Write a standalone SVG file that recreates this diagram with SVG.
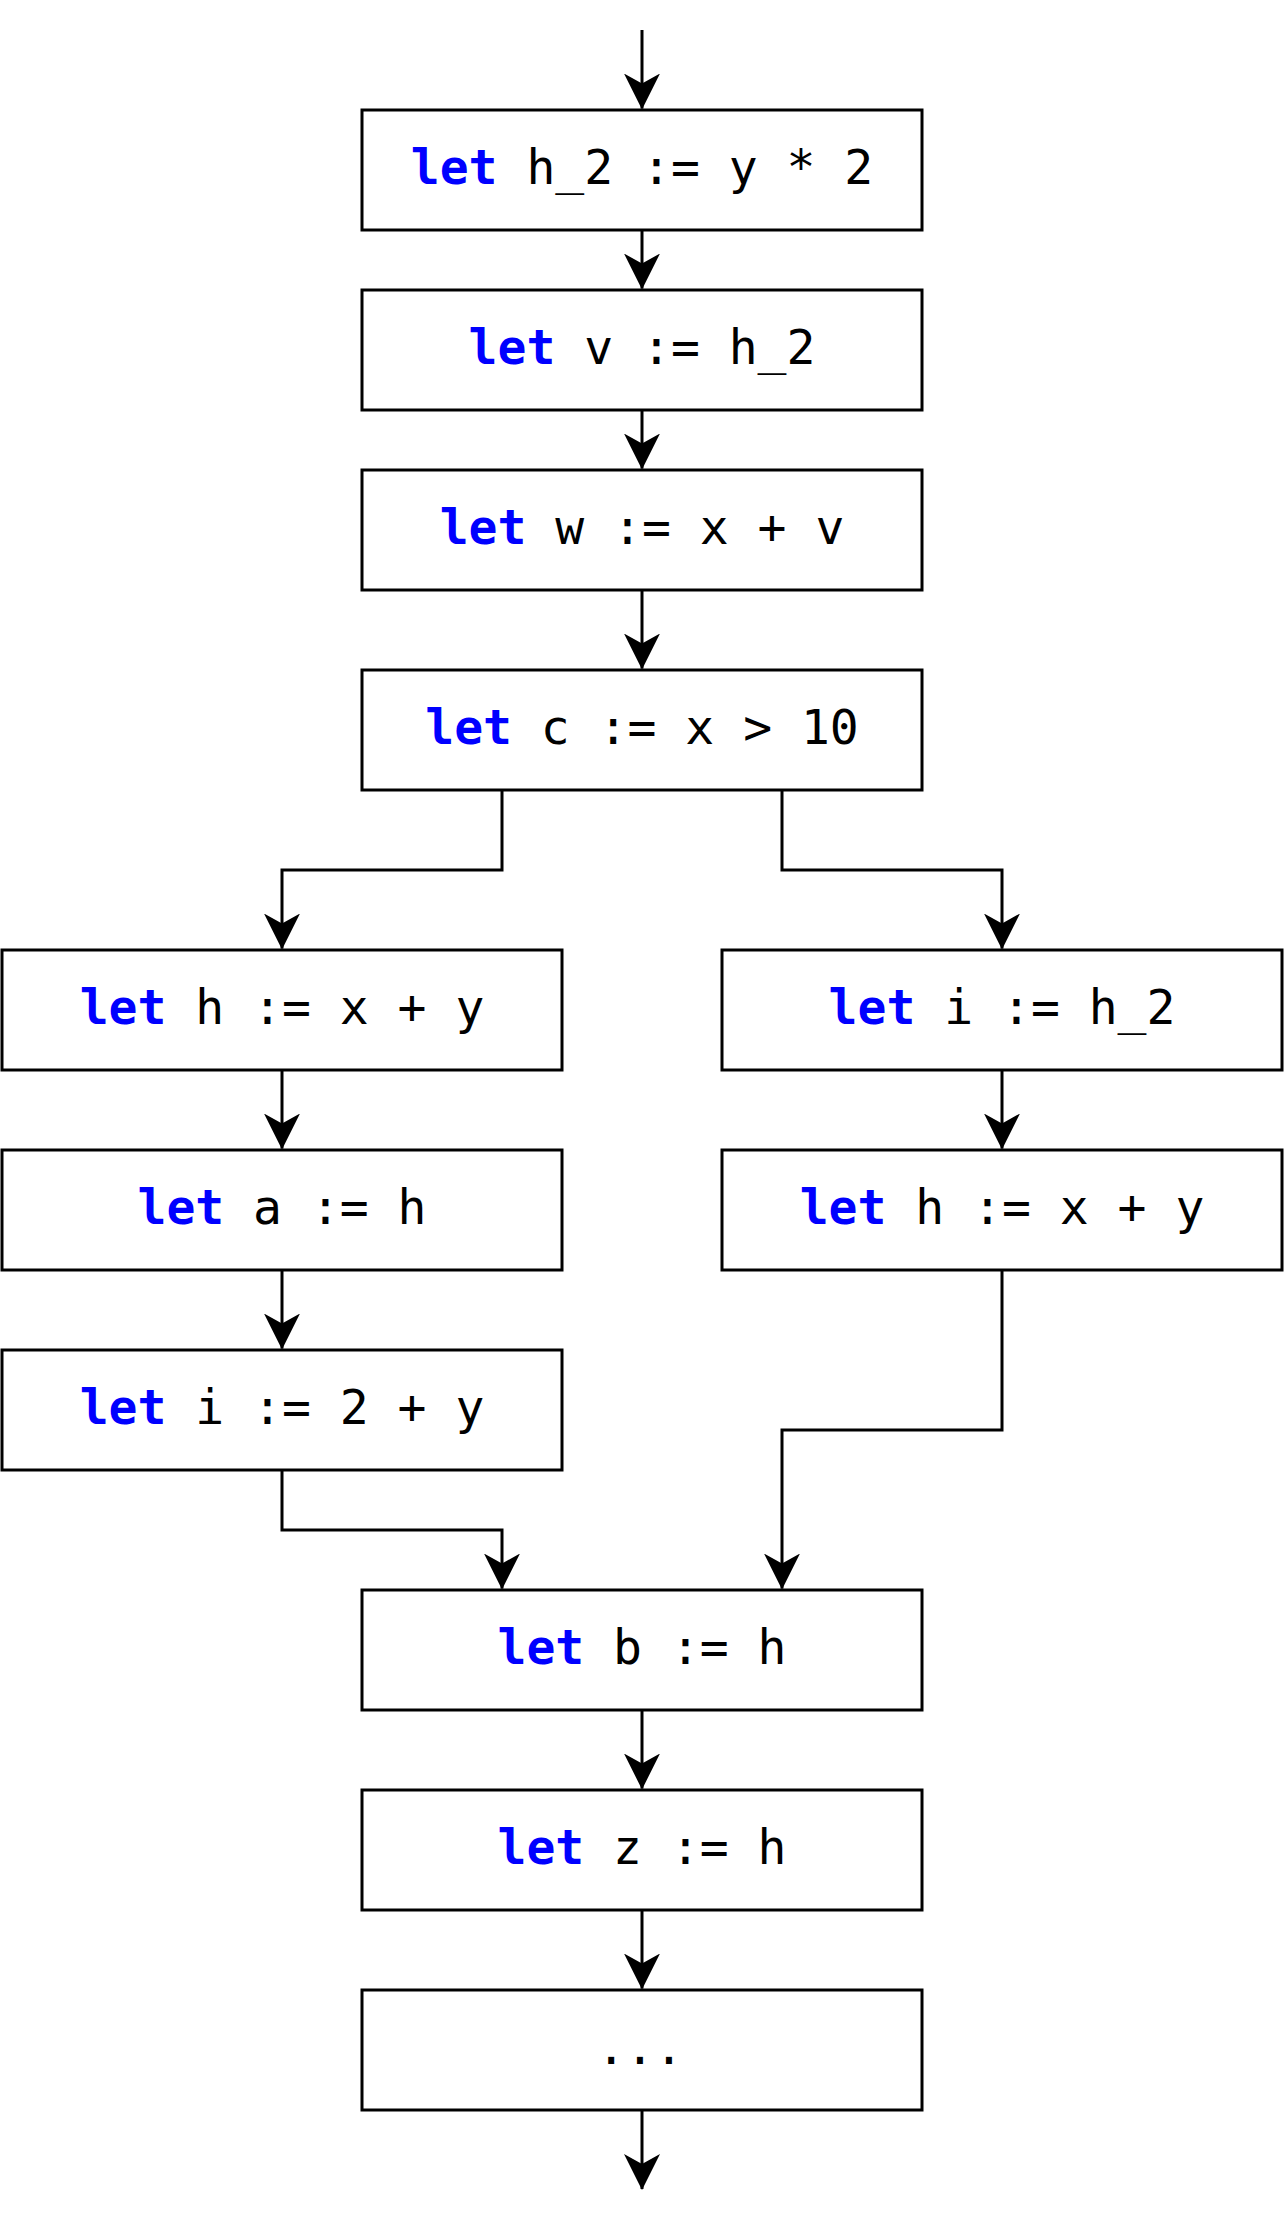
<svg xmlns="http://www.w3.org/2000/svg" width="1284" height="2224" viewBox="0 0 1284 2224">
<style>
.box{fill:#fff;stroke:#000;stroke-width:3}
.lbl{font-family:"DejaVu Sans Mono","Liberation Mono",monospace;font-size:48px;fill:#000;text-anchor:middle}
.kw{fill:#0000ff;font-weight:bold}
.edge{fill:none;stroke:#000;stroke-width:3;marker-end:url(#ah)}
</style>
<defs>
<marker id="ah" markerUnits="userSpaceOnUse" viewBox="0 0 36 36" markerWidth="36" markerHeight="36" refX="35" refY="18" orient="auto">
<path d="M0,0 L36,18 L0,36 L10,18 Z" fill="#000"/>
</marker>
</defs>
<g id="edges">
<path class="edge" d="M642,30 V108.5"/>
<path class="edge" d="M642,230 V288.5"/>
<path class="edge" d="M642,410 V468.5"/>
<path class="edge" d="M642,590 V668.5"/>
<path class="edge" d="M502,790 V870 H282 V948.5"/>
<path class="edge" d="M782,790 V870 H1002 V948.5"/>
<path class="edge" d="M282,1070 V1148.5"/>
<path class="edge" d="M282,1270 V1348.5"/>
<path class="edge" d="M1002,1070 V1148.5"/>
<path class="edge" d="M282,1470 V1530 H502 V1588.5"/>
<path class="edge" d="M1002,1270 V1430 H782 V1588.5"/>
<path class="edge" d="M642,1710 V1788.5"/>
<path class="edge" d="M642,1910 V1988.5"/>
<path class="edge" d="M642,2110 V2189"/>
</g>
<g id="n1"><rect class="box" x="362" y="110" width="560" height="120"/><text class="lbl" x="642" y="184"><tspan class="kw">let</tspan> h_2 := y * 2</text></g>
<g id="n2"><rect class="box" x="362" y="290" width="560" height="120"/><text class="lbl" x="642" y="364"><tspan class="kw">let</tspan> v := h_2</text></g>
<g id="n3"><rect class="box" x="362" y="470" width="560" height="120"/><text class="lbl" x="642" y="544"><tspan class="kw">let</tspan> w := x + v</text></g>
<g id="n4"><rect class="box" x="362" y="670" width="560" height="120"/><text class="lbl" x="642" y="744"><tspan class="kw">let</tspan> c := x &gt; 10</text></g>
<g id="l1"><rect class="box" x="2" y="950" width="560" height="120"/><text class="lbl" x="282" y="1024"><tspan class="kw">let</tspan> h := x + y</text></g>
<g id="l2"><rect class="box" x="2" y="1150" width="560" height="120"/><text class="lbl" x="282" y="1224"><tspan class="kw">let</tspan> a := h</text></g>
<g id="l3"><rect class="box" x="2" y="1350" width="560" height="120"/><text class="lbl" x="282" y="1424"><tspan class="kw">let</tspan> i := 2 + y</text></g>
<g id="r1"><rect class="box" x="722" y="950" width="560" height="120"/><text class="lbl" x="1002" y="1024"><tspan class="kw">let</tspan> i := h_2</text></g>
<g id="r2"><rect class="box" x="722" y="1150" width="560" height="120"/><text class="lbl" x="1002" y="1224"><tspan class="kw">let</tspan> h := x + y</text></g>
<g id="b1"><rect class="box" x="362" y="1590" width="560" height="120"/><text class="lbl" x="642" y="1664"><tspan class="kw">let</tspan> b := h</text></g>
<g id="b2"><rect class="box" x="362" y="1790" width="560" height="120"/><text class="lbl" x="642" y="1864"><tspan class="kw">let</tspan> z := h</text></g>
<g id="b3"><rect class="box" x="362" y="1990" width="560" height="120"/><text class="lbl" x="640" y="2064">...</text></g>
</svg>
